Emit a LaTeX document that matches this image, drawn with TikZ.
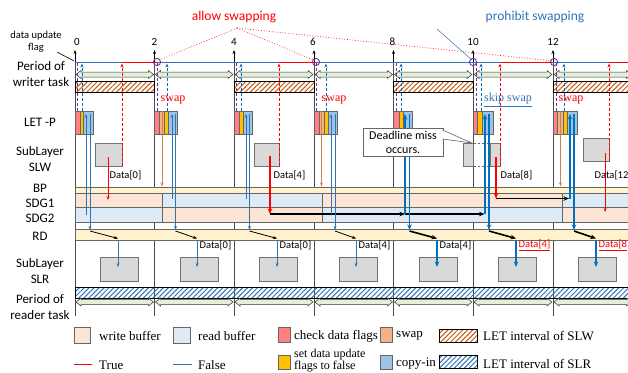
\documentclass[tikz,border=0pt]{standalone}
\usepackage{fontspec}
\setmainfont{Liberation Serif}
\newfontfamily\sansf{Carlito}
\usetikzlibrary{patterns,patterns.meta,arrows.meta}
\definecolor{wbuf}{RGB}{251,229,214}
\definecolor{rbuf}{RGB}{222,235,247}
\definecolor{chk}{RGB}{255,128,128}
\definecolor{swp}{RGB}{244,177,131}
\definecolor{swpd}{RGB}{204,130,80}
\definecolor{ylw}{RGB}{255,192,0}
\definecolor{cpy}{RGB}{157,195,230}
\definecolor{tred}{RGB}{255,0,0}
\definecolor{fblue}{RGB}{0,112,192}
\definecolor{lblue}{RGB}{46,117,182}
\definecolor{bpy}{RGB}{255,242,204}
\definecolor{grn}{RGB}{226,240,217}
\definecolor{purp}{RGB}{112,48,160}
\definecolor{sgray}{RGB}{217,217,217}
\definecolor{hatcho}{RGB}{197,90,17}
\definecolor{hatchb}{RGB}{46,117,182}
\begin{document}
\begin{tikzpicture}[x=1pt,y=-1pt,
  lbl/.style={font=\sansf\fontsize{13}{16}\selectfont, align=center, inner sep=0pt},
  dlbl/.style={font=\sansf\fontsize{10.5}{12}\selectfont, anchor=west, inner sep=0.5pt},
  tknum/.style={font=\sansf\fontsize{11}{12}\selectfont, inner sep=0pt},
  leg/.style={font=\fontsize{13}{14}\selectfont, anchor=west, inner sep=0pt, align=left},
  tickline/.style={draw=black!70, line width=0.6pt},
  cell/.style={draw=black!60, line width=0.4pt},
  sbox/.style={draw=black!55, fill=sgray, line width=0.5pt},
  tip/.style={-{Stealth[length=4pt,width=3pt]}},
  bigtip/.style={-{Stealth[length=5.5pt,width=4.5pt]}},
  rdash/.style={draw=tred, dash pattern=on 3pt off 2pt, line width=0.8pt, tip},
  pdash/.style={draw=purp, dash pattern=on 3pt off 2pt, line width=0.7pt},
  bdash/.style={draw=fblue, dash pattern=on 3pt off 2pt, line width=0.7pt, tip},
  bline/.style={draw=lblue, line width=0.8pt, tip},
  bthick/.style={draw=fblue, line width=1.5pt, bigtip},
  blk/.style={draw=black, line width=0.8pt, tip},
  blkthick/.style={draw=black, line width=1.6pt, bigtip},
  hatchW/.style={draw=black, line width=0.5pt, pattern={Lines[angle=45,distance=3.5pt,line width=1pt]}, pattern color=hatcho},
  hatchR/.style={draw=black, line width=0.5pt, pattern={Lines[angle=45,distance=3.5pt,line width=1pt]}, pattern color=hatchb},
  parrow/.style={draw=black!80, fill=grn, line width=0.5pt},
]
\useasboundingbox (0,0) rectangle (628,372);
\clip (0,0) rectangle (628,372);
\fill[white] (0,0) rectangle (628,372);

% tick lines
\foreach \x in {75,154.5,234,314,393.5,473,553} {
  \draw[tickline] (\x,62) -- (\x,316);
  \draw[tip, black, line width=0.6pt] (\x,62) -- (\x,50);
}
\foreach \x/\t in {77/0,154.5/2,234/4,313/6,392.5/8,473/10,553/12}
  \node[tknum] (t\t) at (\x,42) {\t};

% writer period arrows and LET of SLW
\foreach \a/\b in {75/154.5,154.5/234,234/314,314/393.5,393.5/473,473/553,553/632.5}
  \filldraw[parrow] (\a+1,74.5) -- (\a+6,70.5) -- (\a+6,72) -- (\b-6,72) -- (\b-6,70.5) -- (\b-1,74.5) -- (\b-6,78.5) -- (\b-6,77) -- (\a+6,77) -- (\a+6,78.5) -- cycle;
\foreach \a/\b in {75/154.5,234/314,393.5/473,553/640}
  \draw[hatchW] (\a,81) rectangle (\b,92);

% reader LET and period arrows
\draw[hatchR] (75,287) rectangle (640,298);
\foreach \a/\b in {75/154.5,154.5/234,234/314,314/393.5,393.5/473,473/553,553/632.5}
  \filldraw[parrow] (\a+1,302) -- (\a+6,298) -- (\a+6,299.5) -- (\b-6,299.5) -- (\b-6,298) -- (\b-1,302) -- (\b-6,306) -- (\b-6,304.5) -- (\a+6,304.5) -- (\a+6,306) -- cycle;

% BP, SDG1, SDG2, RD bands
\draw[fill=bpy, draw=black!60, line width=0.5pt] (75,187) rectangle (640,193);
\foreach \a/\b/\c/\d in {75/162/wbuf/rbuf,162/322/rbuf/wbuf,322/562/wbuf/rbuf,562/640/rbuf/wbuf} {
  \draw[fill=\c, draw=black!60, line width=0.5pt] (\a,193) rectangle (\b,207.5);
  \draw[fill=\d, draw=black!60, line width=0.5pt] (\a,207.5) rectangle (\b,222);
}
\draw[fill=bpy, draw=black!60, line width=0.5pt] (75,229) rectangle (640,240);

% LET-P cells
\foreach \a/\b/\c in {75/80/chk,80/83/ylw,83/93/cpy,
 154.5/159.5/chk,159.5/164.5/swp,164.5/168/ylw,168/177.5/cpy,
 234/239/chk,239/243/ylw,243/252/cpy,
 314/319/chk,319/324/swp,324/328/ylw,328/337.5/cpy,
 393.5/399/chk,399/403/ylw,403/412.5/cpy,
 473/477.5/chk,477.5/482/ylw,482/493/cpy,
 553/557.5/chk,557.5/563/swp,563/567/ylw,567/577/cpy}
 \draw[cell,fill=\c] (\a,111) rectangle (\b,134);

% swap arrows
\foreach \x in {162,321.5,560.5}
  \draw[draw=swpd, line width=0.9pt, tip] (\x,111) -- (\x,186.5);

% purple / blue dashed flag lines
\foreach \x in {77,157,236,316,396,476,556}
  \draw[pdash] (\x,63) -- (\x,111);
\foreach \x in {82,167,241,326,401,481,564}
  \draw[bdash] (\x,111) -- (\x,63.5);

% SubLayer SLW boxes
\draw[sbox] (95,143) rectangle (122,166);
\draw[sbox] (254,143) rectangle (279,166);
\draw[sbox] (463,143) rectangle (473,166);
\draw[sbox] (490,143) rectangle (500,166);
\draw[black!60, dash pattern=on 2.5pt off 2pt, line width=0.5pt] (473,143) -- (490,143) (473,166) -- (490,166);
\draw[sbox] (583,138) rectangle (609,161);

% red dashed writes to flag
\draw[rdash] (122,166) -- (122,63.5);
\draw[rdash] (279,166) -- (279,63.5);
\draw[rdash] (500,166) -- (500,63.5);
\draw[rdash] (609,161) -- (609,63.5);

% writes to buffers
\draw[draw=tred, line width=0.8pt, tip] (108,157) -- (108,200);
\draw[draw=tred, line width=1.5pt, bigtip] (270,156) -- (270,214);
\draw[blkthick] (270,214) -- (405,214);
\draw[blkthick] (405,214) -- (484.5,214);
\draw[draw=tred, line width=1.5pt, bigtip] (496,157) -- (496,198.5);
\draw[blkthick] (496,198.5) -- (569,198.5);
\draw[draw=tred, line width=0.8pt, tip] (605,153) -- (605,212);

\node[dlbl] (w0) at (109,175) {Data[0]};
\node[dlbl] (w4) at (273,175) {Data[4]};
\node[dlbl] (w8) at (500,175) {Data[8]};
\node[dlbl] (w12) at (594,175) {Data[12};

% copy-in reads and RD
\draw[bline] (86,215) -- (86,114);
\draw[bline] (90,114) -- (90,230);
\draw[bline] (172,199) -- (172,114);
\draw[bline] (175.5,114) -- (175.5,230);
\draw[bline] (246,199) -- (246,114);
\draw[bline] (249.5,114) -- (249.5,230);
\draw[bline] (331,214) -- (331,114);
\draw[bline] (335,114) -- (335,230);
\draw[bthick] (405,214) -- (405,114);
\draw[bthick] (409.5,114) -- (409.5,230);
\draw[bthick] (485,214) -- (485,114);
\draw[bthick] (489,114) -- (489,230);
\draw[bthick] (570,198.5) -- (570,114);
\draw[bthick] (574,114) -- (574,230);

% RD to SLR
\foreach \r/\s in {90/118,175.5/197,249.5/277,335/356}
  \draw[blk] (\r,231) -- (\s,238.5);
\foreach \r/\s in {409.5/437,489/516,574/596}
  \draw[blkthick] (\r,231) -- (\s,238.5);
\foreach \x in {100,180,259,339,419,498,578}
  \draw[sbox] (\x,257) rectangle (\x+38,281);
\foreach \s in {118,197,277,356}
  \draw[bline] (\s,240) -- (\s,267);
\foreach \s in {437,516,596}
  \draw[bthick] (\s,240) -- (\s,267);

\node[dlbl] (r1) at (199,245) {Data[0]};
\node[dlbl] (r2) at (279,245) {Data[0]};
\node[dlbl] (r3) at (358,245) {Data[4]};
\node[dlbl] (r4) at (439,245) {Data[4]};
\node[dlbl, text=tred] (r5) at (518,245) {\underline{Data[4]}};
\node[dlbl, text=tred] (r6) at (598,245) {\underline{Data[8}};

% flag line
\foreach \a/\b in {75/122,157/279,316/500,553/609}
  \draw[lblue, line width=0.9pt] (\a,62) -- (\b,62);
\foreach \a/\b in {122/157,279/316,500/553,609/640}
  \draw[tred, line width=0.9pt] (\a,62) -- (\b,62);

% annotations
\node[font=\sansf\fontsize{13.5}{15}\selectfont, text=tred, inner sep=0pt] (allow) at (234,17) {allow swapping};
\node[font=\sansf\fontsize{13.5}{15}\selectfont, text=lblue, inner sep=0pt] (prohibit) at (535,17) {prohibit swapping};
\coordinate (aa) at (237,28);
\foreach \x in {157,316,553}
  \draw[tred, dotted, line width=0.7pt] (aa) -- (\x,61);
\draw[lblue, line width=0.5pt] (437,29) -- (472,60);
\foreach \x in {157,316,473,554}
  \draw[purp, line width=0.9pt] (\x,62) circle (3.6);

\node[font=\fontsize{12}{13}\selectfont, text=tred, inner sep=0pt] (sw1) at (173,100) {swap};
\node[font=\fontsize{12}{13}\selectfont, text=tred, inner sep=0pt] (sw2) at (334,100) {swap};
\node[font=\fontsize{12}{13}\selectfont, text=lblue, inner sep=0pt] (sw3) at (508,100) {\underline{skip swap}};
\node[font=\fontsize{12}{13}\selectfont, text=tred, inner sep=0pt] (sw4) at (571,100) {swap};

% deadline callout
\node[draw=black!60, fill=white, line width=0.6pt, font=\sansf\fontsize{12}{14}\selectfont, align=center, minimum width=80pt, minimum height=28pt, inner sep=1pt] (dl) at (403,142) {Deadline miss\\occurs.};
\filldraw[fill=white, draw=black!60, line width=0.6pt] (442.5,130) -- (472,143) -- (442.5,139);
\draw[white, line width=1pt] (443,130.8) -- (443,138.2);

% data update flag label
\node[font=\sansf\fontsize{10.5}{12}\selectfont, align=center, inner sep=0pt] (duf) at (36,42) {data update\\flag};
\draw[black, line width=0.6pt] (57,52) -- (74,61);

% left labels
\node[lbl] (lpw) at (41,74) {Period of\\writer task};
\node[lbl] (llet) at (40,122) {LET -P};
\node[lbl] (lslw) at (40,159) {SubLayer\\SLW};
\node[lbl] (lbp) at (40,188) {BP};
\node[lbl] (ls1) at (40,203) {SDG1};
\node[lbl] (ls2) at (40,218) {SDG2};
\node[lbl] (lrd) at (40,236) {RD};
\node[lbl] (lslr) at (40,271) {SubLayer\\SLR};
\node[lbl] (lpr) at (40,307) {Period of\\reader task};

% legend
\draw[cell, fill=wbuf] (74,327) rectangle (90,343);
\node[leg] (lg1) at (99,336) {write buffer};
\draw[cell, fill=rbuf] (173,327) rectangle (190,343);
\node[leg] (lg2) at (198,336) {read buffer};
\draw[cell, fill=chk] (278,327) rectangle (290,342);
\node[leg] (lg3) at (294,336) {check data flags};
\draw[cell, fill=swp] (380,327) rectangle (392,342);
\node[leg] (lg4) at (396,336) {swap};
\draw[hatchW] (439,329) rectangle (477,342);
\node[leg] (lg5) at (483,336) {LET interval of SLW};

\draw[tred, line width=0.9pt] (74,364) -- (92,364);
\node[leg] (lg6) at (99,365) {True};
\draw[lblue, line width=0.9pt] (173,364) -- (192,364);
\node[leg] (lg7) at (198,365) {False};
\draw[cell, fill=ylw] (278,355) rectangle (290,369);
\node[leg, font=\fontsize{12}{12.5}\selectfont] (lg8) at (294,360.5) {set data update\\flags to false};
\draw[cell, fill=cpy] (380,355) rectangle (392,369);
\node[leg] (lg9) at (396,364) {copy-in};
\draw[hatchR] (439,355) rectangle (477,368);
\node[leg] (lg10) at (483,364) {LET interval of SLR};
\end{tikzpicture}
\end{document}
